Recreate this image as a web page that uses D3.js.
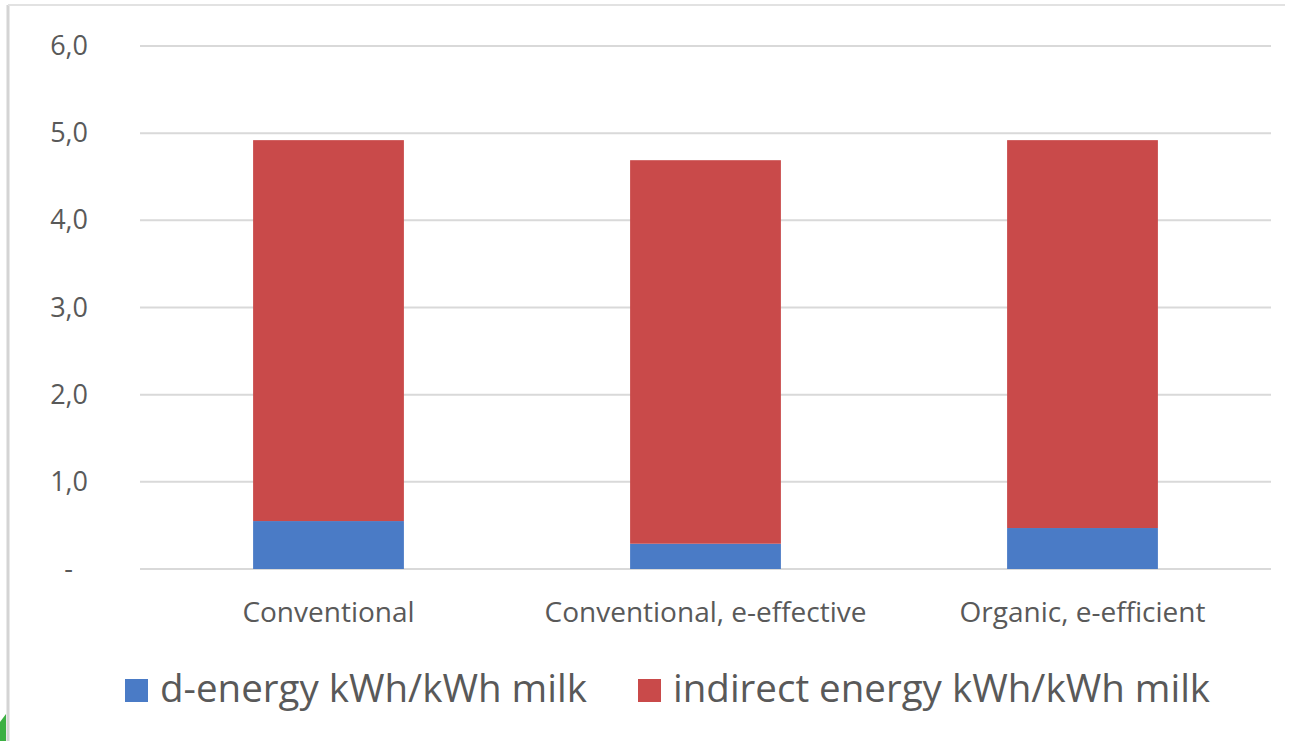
<!DOCTYPE html>
<html><head><meta charset="utf-8">
<script src="https://cdn.jsdelivr.net/npm/d3@7"></script>
<style>html,body{margin:0;padding:0;background:#fff;}svg{display:block;}</style>
</head><body>
<svg id="chart" width="1293" height="741"></svg>
<script>
const categories = ["Conventional", "Conventional, e-effective", "Organic, e-efficient"];
const directEnergy = [0.55, 0.29, 0.47];
const indirectEnergy = [4.37, 4.40, 4.45];
const seriesNames = ["d-energy kWh/kWh milk", "indirect energy kWh/kWh milk"];
const yTicks = [0, 1, 2, 3, 4, 5, 6];
const yTickLabels = ["-", "1,0", "2,0", "3,0", "4,0", "5,0", "6,0"];
const colors = ["#4A7BC6", "#C94A4A"];

const svg = d3.select("#chart");
const W = 1293, H = 741;
const font = "'Open Sans', 'Liberation Sans', sans-serif";
const textColor = "#595959";

// frame
svg.append("rect").attr("x", 0).attr("y", 0).attr("width", W).attr("height", H).attr("fill", "#fff");
svg.append("line").attr("x1", 8).attr("x2", 8).attr("y1", 5).attr("y2", H).attr("stroke", "#d4d4d4").attr("stroke-width", 3);
svg.append("line").attr("x1", 8).attr("x2", 1285).attr("y1", 5).attr("y2", 5).attr("stroke", "#e2e2e2").attr("stroke-width", 2);
svg.append("path").attr("d", "M0,741 L0,722 L6,714 L6,741 Z").attr("fill", "#3cb043");

const plot = {left: 140, right: 1271, top: 46, bottom: 569};
const x = d3.scaleBand().domain(categories).range([plot.left, plot.right]).paddingInner(0.6).paddingOuter(0.3);
const y = d3.scaleLinear().domain([0, 6]).range([plot.bottom, plot.top]);

// gridlines
svg.append("g").selectAll("line").data(yTicks).join("line")
  .attr("x1", plot.left).attr("x2", plot.right)
  .attr("y1", d => y(d)).attr("y2", d => y(d))
  .attr("stroke", "#d9d9d9").attr("stroke-width", 2);

// y axis labels
const yAxis = d3.axisLeft(y).tickValues(yTicks).tickFormat((d, i) => yTickLabels[i]).tickSize(0).tickPadding(0);
const gy = svg.append("g").attr("transform", `translate(88,0)`).call(yAxis);
gy.select(".domain").remove();
gy.selectAll("text").attr("font-family", font).attr("font-size", 27).attr("fill", textColor);
gy.selectAll(".tick").filter(d => d === 0).select("text").attr("dx", -15);

// stacked bars
const rows = categories.map((c, i) => ({cat: c, d: directEnergy[i], ind: indirectEnergy[i]}));
const stack = d3.stack().keys(["d", "ind"])(rows);
svg.append("g").selectAll("g").data(stack).join("g")
  .attr("fill", (s, i) => colors[i])
  .selectAll("rect").data(s => s).join("rect")
  .attr("x", d => x(d.data.cat))
  .attr("width", x.bandwidth())
  .attr("y", d => y(d[1]))
  .attr("height", d => y(d[0]) - y(d[1]));

// x axis labels
const xAxis = d3.axisBottom(x).tickSize(0).tickPadding(0);
const gx = svg.append("g").attr("transform", `translate(0,${plot.bottom + 53})`).call(xAxis);
gx.select(".domain").remove();
gx.selectAll("text").attr("font-family", font).attr("font-size", 28).attr("fill", textColor).attr("dy", "0");

// legend
const legendItems = [{x: 125, tx: 160}, {x: 638, tx: 673}];
const lg = svg.append("g");
seriesNames.forEach((name, i) => {
  lg.append("rect").attr("x", legendItems[i].x).attr("y", 679).attr("width", 23).attr("height", 23).attr("fill", colors[i]);
  lg.append("text").attr("x", legendItems[i].tx).attr("y", 702)
    .attr("font-family", font).attr("font-size", 38.5).attr("fill", textColor).text(name);
});
</script>
</body></html>
